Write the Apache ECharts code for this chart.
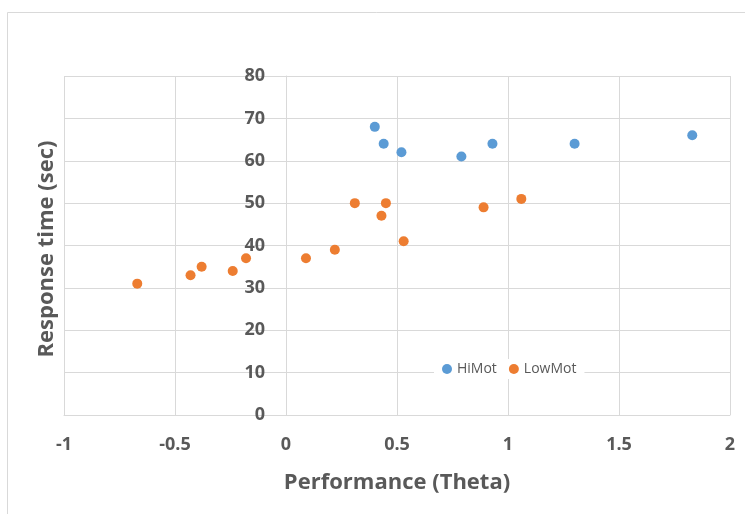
<!DOCTYPE html>
<html>
<head>
<meta charset="utf-8">
<script src="https://cdn.jsdelivr.net/npm/echarts@6/dist/echarts.min.js"></script>
<style>
  html, body { margin: 0; padding: 0; background: #fff; }
  #chart { width: 745px; height: 514px; }
</style>
</head>
<body>
<div id="chart"></div>
<script>
// Performance (theta) vs response time for the two motivation groups
const hiMotTheta = [0.40, 0.44, 0.52, 0.79, 0.93, 1.30, 1.83];
const hiMotTime  = [68, 64, 62, 61, 64, 64, 66];

const lowMotTheta = [-0.67, -0.43, -0.38, -0.24, -0.18, 0.09, 0.22, 0.31, 0.43, 0.45, 0.53, 0.89, 1.06];
const lowMotTime  = [31, 33, 35, 34, 37, 37, 39, 50, 47, 50, 41, 49, 51];

const seriesNames = ['HiMot', 'LowMot'];
const xTicks = [-1, -0.5, 0, 0.5, 1, 1.5, 2];
const yTicks = [0, 10, 20, 30, 40, 50, 60, 70, 80];

const pairs = (xs, ys) => xs.map((x, i) => [x, ys[i]]);

const txt = '#595959';
const grid = '#d9d9d9';
const fontFam = "'Open Sans', 'Noto Sans', sans-serif";
const gridLeft = 64;

const chart = echarts.init(document.getElementById('chart'), null, { renderer: 'canvas' });
chart.setOption({
  animation: false,
  backgroundColor: '#fff',
  graphic: [{
    type: 'rect',
    left: 5, top: 10,
    shape: { width: 800, height: 600 },
    style: { fill: 'none', stroke: grid, lineWidth: 1 },
    silent: true,
    z: -1
  }, {
    // vertical axis title, kept near the left edge instead of beside the zero line
    type: 'text',
    x: 47, y: 249,
    rotation: Math.PI / 2,
    style: {
      text: 'Response time (sec)',
      fill: txt, fontSize: 22, fontWeight: 'bold', fontFamily: fontFam,
      align: 'center', verticalAlign: 'middle'
    },
    silent: true
  }],
  grid: { left: gridLeft, right: 15, top: 76, bottom: 99, containLabel: false },
  legend: {
    data: seriesNames,
    left: 434, top: 359,
    orient: 'horizontal',
    icon: 'circle',
    itemWidth: 10, itemHeight: 10, itemGap: 12,
    padding: [3, 8, 3, 8],
    backgroundColor: '#fff',
    textStyle: { color: txt, fontSize: 14, fontFamily: fontFam },
    z: 10
  },
  xAxis: {
    type: 'value',
    min: xTicks[0], max: xTicks[xTicks.length - 1], interval: 0.5,
    name: 'Performance (Theta)',
    nameLocation: 'middle', nameGap: 57,
    nameTextStyle: { color: txt, fontSize: 22, fontWeight: 'bold', fontFamily: fontFam },
    axisLine: { show: true, onZero: false, lineStyle: { color: grid } },
    axisTick: { show: false },
    axisLabel: { color: txt, fontSize: 18, fontWeight: 'bold', fontFamily: fontFam, margin: 21 },
    splitLine: { show: true, lineStyle: { color: grid, width: 1 } }
  },
  yAxis: {
    type: 'value',
    min: yTicks[0], max: yTicks[yTicks.length - 1], interval: 10,
    axisLine: { show: true, onZero: false, lineStyle: { color: grid } },
    axisTick: { show: false },
    axisLabel: { color: txt, fontSize: 18, fontWeight: 'bold', fontFamily: fontFam, margin: 21 },
    splitLine: { show: true, lineStyle: { color: grid, width: 1 } }
  },
  series: [
    {
      name: seriesNames[0], type: 'scatter', symbol: 'circle', symbolSize: 10,
      itemStyle: { color: '#5B9BD5', opacity: 1 },
      data: pairs(hiMotTheta, hiMotTime)
    },
    {
      name: seriesNames[1], type: 'scatter', symbol: 'circle', symbolSize: 10,
      itemStyle: { color: '#ED7D31', opacity: 1 },
      data: pairs(lowMotTheta, lowMotTime)
    }
  ]
});

// Slide the value axis over to where theta = 0 sits on the horizontal scale
const zeroX = chart.convertToPixel({ xAxisIndex: 0 }, 0);
chart.setOption({ yAxis: { offset: gridLeft - zeroX } });
</script>
</body>
</html>
